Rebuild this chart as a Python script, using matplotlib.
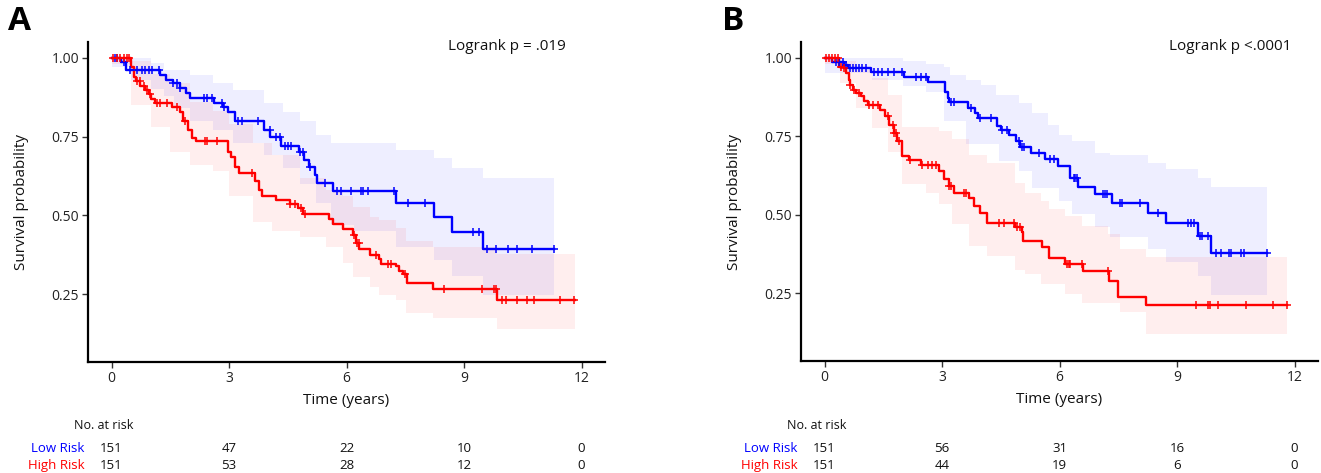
import numpy as np
import matplotlib
matplotlib.use('Agg')
import matplotlib.pyplot as plt
from matplotlib import transforms

plt.rcParams['font.family'] = ['Open Sans', 'DejaVu Sans']

# ---------------- Panel A data ----------------
A_low_t = [0, 0.23, 0.36, 1.25, 1.40, 1.58, 1.75, 1.90, 2.00, 2.62, 2.85, 2.97, 3.15, 3.90, 4.05, 4.33,
           4.78, 4.92, 5.05, 5.19, 5.24, 5.65, 7.26, 8.24, 8.70, 9.49]
A_low_s = [1.0, 0.988, 0.960, 0.946, 0.930, 0.920, 0.905, 0.889, 0.872, 0.857, 0.844, 0.829, 0.800, 0.771,
           0.749, 0.720, 0.700, 0.676, 0.654, 0.628, 0.604, 0.578, 0.540, 0.494, 0.448, 0.392]
A_low_end = 11.30
A_low_cens = [0.10, 0.15, 0.31, 0.48, 0.65, 0.78, 0.86, 0.95, 1.03, 1.20, 1.58, 1.67, 1.75, 2.35, 2.43, 2.56,
              2.81, 2.86, 3.24, 3.32, 3.75, 4.04, 4.21, 4.30, 4.42, 4.51, 4.59, 4.80, 4.90, 5.06, 5.44, 5.77,
              5.87, 6.12, 6.37, 6.41, 6.54, 7.22, 7.58, 8.01, 9.23, 9.38, 9.59, 9.81, 10.13, 10.35, 10.73, 11.29]
A_low_ci_t = [0, 0.5, 1.0, 1.33, 1.6, 2.0, 2.6, 3.11, 3.9, 4.38, 4.8, 5.23, 5.61, 6.2, 7.26, 8.24, 8.70, 9.49]
A_low_ci_hi = [1.0, 1.0, 0.983, 0.962, 0.962, 0.946, 0.920, 0.898, 0.856, 0.829, 0.800, 0.755, 0.729, 0.729,
               0.708, 0.681, 0.650, 0.620]
A_low_ci_lo = [0.97, 0.93, 0.90, 0.88, 0.84, 0.80, 0.77, 0.73, 0.69, 0.65, 0.60, 0.54, 0.47, 0.45, 0.40,
               0.36, 0.308, 0.247]

A_high_t = [0, 0.50, 0.57, 0.62, 0.74, 0.86, 0.95, 1.02, 1.10, 1.55, 1.75, 1.83, 1.95, 2.05, 2.15, 2.98,
            3.05, 3.15, 3.25, 3.66, 3.76, 3.85, 4.20, 4.55, 4.76, 4.90, 5.56, 5.65, 5.90, 6.16, 6.25, 6.33,
            6.60, 6.84, 6.88, 7.26, 7.35, 7.45, 7.55, 8.20, 9.83]
A_high_s = [1.0, 0.972, 0.940, 0.925, 0.909, 0.898, 0.884, 0.870, 0.858, 0.845, 0.829, 0.800, 0.771, 0.745,
            0.735, 0.702, 0.686, 0.655, 0.636, 0.608, 0.580, 0.561, 0.549, 0.536, 0.522, 0.506, 0.487, 0.472,
            0.458, 0.437, 0.411, 0.395, 0.374, 0.363, 0.347, 0.339, 0.324, 0.314, 0.284, 0.265, 0.231]
A_high_end = 11.84
A_high_cens = [0.05, 0.14, 0.22, 0.31, 0.39, 0.45, 0.65, 0.73, 0.82, 0.90, 0.99, 1.16, 1.25, 1.42, 1.67, 1.88,
               2.39, 2.43, 2.69, 3.58, 4.55, 4.68, 4.85, 4.93, 6.20, 6.26, 6.31, 6.75, 7.05, 7.14, 7.50, 8.48,
               9.47, 9.76, 9.81, 9.98, 10.06, 10.36, 10.61, 10.78, 11.46, 11.82]
A_high_ci_t = [0, 0.5, 1.0, 1.5, 2.0, 2.6, 3.0, 3.6, 4.1, 4.8, 5.48, 5.9, 6.16, 6.59, 6.84, 7.26, 7.52, 8.2,
               9.47, 9.83]
A_high_ci_hi = [1.0, 0.99, 0.95, 0.92, 0.86, 0.83, 0.79, 0.73, 0.69, 0.62, 0.58, 0.56, 0.527, 0.496, 0.485,
                0.46, 0.42, 0.40, 0.40, 0.379]
A_high_ci_lo = [0.98, 0.85, 0.78, 0.70, 0.66, 0.64, 0.56, 0.48, 0.45, 0.43, 0.40, 0.348, 0.305, 0.273, 0.247,
                0.231, 0.19, 0.174, 0.174, 0.141]

# ---------------- Panel B data ----------------
B_low_t = [0, 0.20, 0.50, 0.60, 1.18, 2.03, 2.65, 3.08, 3.15, 3.18, 3.66, 3.85, 3.92, 4.41, 4.50, 4.70, 4.90,
           5.00, 5.28, 5.62, 5.95, 6.28, 6.48, 6.91, 7.33, 8.26, 8.73, 9.53, 9.87]
B_low_s = [1.0, 0.987, 0.977, 0.966, 0.953, 0.940, 0.924, 0.892, 0.871, 0.859, 0.840, 0.824, 0.808, 0.782,
           0.771, 0.755, 0.734, 0.715, 0.697, 0.679, 0.655, 0.618, 0.590, 0.565, 0.539, 0.507, 0.474, 0.434,
           0.379]
B_low_end = 11.31
B_low_cens = [0.30, 0.38, 0.46, 0.55, 0.64, 0.72, 0.80, 0.89, 0.97, 1.05, 1.27, 1.36, 1.48, 1.61, 1.78, 1.99,
              2.33, 2.46, 2.59, 3.22, 3.31, 3.73, 3.98, 4.24, 4.53, 4.66, 4.96, 5.04, 5.09, 5.47, 5.76, 5.85,
              6.36, 6.40, 6.44, 7.12, 7.16, 7.20, 7.54, 7.60, 8.05, 8.52, 9.28, 9.36, 9.43, 9.58, 9.64, 9.79,
              10.00, 10.13, 10.34, 10.38, 10.64, 10.72, 11.31]
B_low_ci_t = [0, 1.2, 2.0, 2.6, 3.05, 3.2, 3.6, 4.0, 4.37, 4.45, 4.96, 5.3, 5.7, 5.98, 6.31, 6.9, 7.3, 8.26,
              8.73, 9.53, 9.87]
B_low_ci_hi = [1.0, 1.0, 0.99, 0.98, 0.97, 0.946, 0.93, 0.914, 0.882, 0.882, 0.855, 0.824, 0.787, 0.755, 0.734,
               0.697, 0.692, 0.666, 0.645, 0.618, 0.589]
B_low_ci_lo = [0.95, 0.93, 0.91, 0.89, 0.80, 0.80, 0.724, 0.724, 0.724, 0.671, 0.639, 0.586, 0.586, 0.544,
               0.503, 0.46, 0.43, 0.39, 0.35, 0.307, 0.244]

B_high_t = [0, 0.38, 0.50, 0.55, 0.62, 0.64, 0.72, 0.80, 0.93, 1.00, 1.10, 1.42, 1.55, 1.65, 1.78, 1.86, 1.99,
            2.15, 2.46, 2.92, 3.05, 3.18, 3.30, 3.69, 3.82, 3.96, 4.15, 4.87, 5.03, 5.08, 5.55, 5.72, 6.14,
            6.60, 7.27, 7.50, 8.22]
B_high_s = [1.0, 0.972, 0.966, 0.950, 0.929, 0.914, 0.898, 0.887, 0.877, 0.861, 0.850, 0.834, 0.813, 0.787,
            0.760, 0.734, 0.687, 0.673, 0.660, 0.639, 0.613, 0.592, 0.571, 0.555, 0.528, 0.507, 0.473, 0.460,
            0.444, 0.418, 0.397, 0.363, 0.344, 0.320, 0.291, 0.238, 0.212]
B_high_end = 11.82
B_high_cens = [0.05, 0.12, 0.20, 0.27, 0.35, 0.42, 0.51, 0.64, 0.76, 0.89, 1.14, 1.23, 1.36, 1.61, 1.74, 1.78,
               1.82, 1.91, 2.18, 2.50, 2.63, 2.75, 2.84, 3.18, 3.22, 3.56, 3.60, 4.45, 4.58, 4.83, 4.92, 5.00,
               6.19, 6.23, 6.27, 6.57, 7.25, 9.49, 9.79, 9.83, 10.04, 10.76, 11.44, 11.82]
B_high_ci_t = [0, 0.4, 0.8, 1.2, 1.61, 1.99, 2.6, 2.92, 3.26, 3.69, 4.15, 4.87, 5.11, 5.54, 5.72, 6.14, 6.57,
               7.25, 7.55, 8.22]
B_high_ci_hi = [1.0, 0.99, 0.96, 0.935, 0.88, 0.78, 0.78, 0.766, 0.74, 0.692, 0.666, 0.602, 0.571, 0.544,
                0.518, 0.497, 0.465, 0.439, 0.391, 0.365]
B_high_ci_lo = [0.98, 0.92, 0.84, 0.776, 0.70, 0.597, 0.571, 0.534, 0.47, 0.402, 0.37, 0.323, 0.313, 0.28,
                0.28, 0.249, 0.219, 0.219, 0.191, 0.122]

# ---------------- Risk tables ----------------
risk_times = [0, 3, 6, 9, 12]
A_low_risk = [151, 47, 22, 10, 0]
A_high_risk = [151, 53, 28, 12, 0]
B_low_risk = [151, 56, 31, 16, 0]
B_high_risk = [151, 44, 19, 6, 0]

group_labels = ['Low Risk', 'High Risk']
panel_labels = ['A', 'B']
pvalue_texts = ['Logrank p = .019', 'Logrank p <.0001']
x_ticks = [0, 3, 6, 9, 12]
y_ticks = [0.25, 0.50, 0.75, 1.00]

BLUE = '#0000FF'
RED = '#FF0000'

W, H = 1321, 473
fig = plt.figure(figsize=(W / 100, H / 100), dpi=100)


def step_value(t, times, surv):
    idx = np.searchsorted(times, t, side='right') - 1
    return np.asarray(surv)[idx]


def draw_curve(ax, times, surv, end, cens, ci_t, ci_lo, ci_hi, color):
    ct = list(ci_t) + [end]
    ax.fill_between(ct, list(ci_lo) + [ci_lo[-1]], list(ci_hi) + [ci_hi[-1]], step='post',
                    color=color, alpha=0.065, lw=0, zorder=1)
    xs = list(times) + [end]
    ys = list(surv) + [surv[-1]]
    ax.step(xs, ys, where='post', color=color, lw=1.7, zorder=3)
    cy = step_value(np.asarray(cens), times, surv)
    ax.plot(cens, cy, ls='none', marker='+', ms=6, mew=1.1, color=color, zorder=4)


def draw_panel(ax, low, high, low_risk, high_risk, label, ptext, ptext_x, fig_x_label):
    draw_curve(ax, *low, BLUE)
    draw_curve(ax, *high, RED)
    ax.set_xlim(-0.6, 12.6)
    ax.set_ylim(0.035, 1.05)
    ax.set_xticks(x_ticks)
    ax.set_xticklabels([str(v) for v in x_ticks])
    ax.set_yticks(y_ticks)
    ax.set_yticklabels(['%.2f' % v for v in y_ticks])
    for s in ['top', 'right']:
        ax.spines[s].set_visible(False)
    for s in ['left', 'bottom']:
        ax.spines[s].set_linewidth(1.6)
    ax.tick_params(axis='both', length=4, width=1.0, labelsize=10, pad=2.5, color='#333333',
                   labelcolor='#222222')
    ax.set_xlabel('Time (years)', fontsize=11, labelpad=5, color='#111111')
    ax.set_ylabel('Survival probability', fontsize=11, labelpad=16, color='#111111')
    ax.text(ptext_x, 1.035, ptext, ha='center', va='center', fontsize=11, color='#111111')
    fig.text(fig_x_label, 1 - 22 / H, label, fontsize=24, fontweight='bold', ha='left', va='center')
    trans = transforms.blended_transform_factory(ax.transData, fig.transFigure)
    ax.text(-0.95, 1 - 425 / H, 'No. at risk', transform=trans, ha='left', va='center', fontsize=9,
            color='#111111', clip_on=False)
    for row, (vals, col, lab) in enumerate(zip([low_risk, high_risk], [BLUE, RED], group_labels)):
        yy = 1 - (448 + 17 * row) / H
        ax.text(-0.68, yy, lab, transform=trans, ha='right', va='center', fontsize=9.5,
                color=col, clip_on=False)
        for t, v in zip(risk_times, vals):
            ax.text(t, yy, str(v), transform=trans, ha='center', va='center', fontsize=9.5,
                    color='#111111', clip_on=False)


axA = fig.add_axes([88 / W, 1 - 362 / H, 517 / W, 320 / H])
axB = fig.add_axes([801 / W, 1 - 361 / H, 517 / W, 319 / H])

draw_panel(axA,
           (A_low_t, A_low_s, A_low_end, A_low_cens, A_low_ci_t, A_low_ci_lo, A_low_ci_hi),
           (A_high_t, A_high_s, A_high_end, A_high_cens, A_high_ci_t, A_high_ci_lo, A_high_ci_hi),
           A_low_risk, A_high_risk, panel_labels[0], pvalue_texts[0], 10.1, 8 / W)
draw_panel(axB,
           (B_low_t, B_low_s, B_low_end, B_low_cens, B_low_ci_t, B_low_ci_lo, B_low_ci_hi),
           (B_high_t, B_high_s, B_high_end, B_high_cens, B_high_ci_t, B_high_ci_lo, B_high_ci_hi),
           B_low_risk, B_high_risk, panel_labels[1], pvalue_texts[1], 10.35, 722 / W)

fig.savefig('out.png', dpi=100)
